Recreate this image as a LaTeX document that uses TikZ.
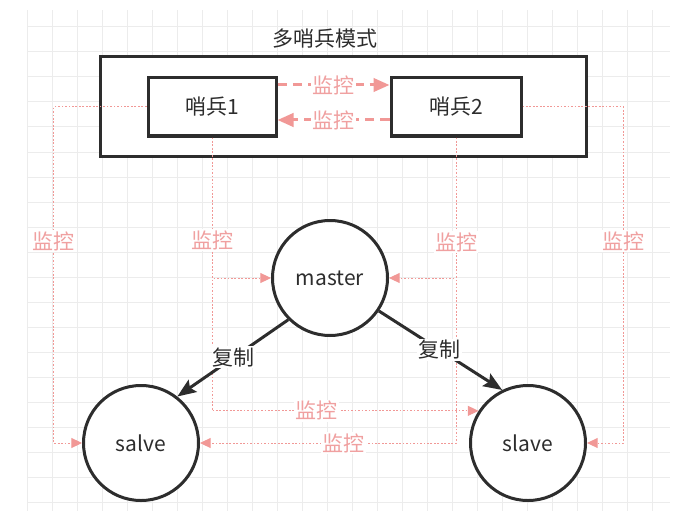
\documentclass[tikz,border=0pt]{standalone}
\usepackage{fontspec}
\setmainfont{Noto Sans CJK SC}
\usetikzlibrary{arrows.meta}
\definecolor{ink}{RGB}{45,45,45}
\definecolor{rose}{RGB}{241,152,150}
\definecolor{roselbl}{RGB}{240,160,160}
\definecolor{gridc}{RGB}{236,236,236}

\begin{document}
\begin{tikzpicture}[x=0.75pt,y=-0.75pt,
  every node/.style={font=\fontsize{15.75pt}{18pt}\selectfont, text=ink},
  gridline/.style={draw=gridc, line width=0.75pt},
  frame/.style={draw=ink, line width=2.25pt, fill=white, inner sep=0pt},
  sentinel/.style={frame, minimum width=96pt, minimum height=43.5pt},
  redis/.style={circle, draw=ink, line width=2.25pt, fill=white, minimum size=86.25pt, inner sep=0pt},
  mon/.style={draw=rose, line width=0.75pt, dash pattern=on 1.3pt off 1.3pt,
    -{Triangle[length=8pt,width=7.5pt,fill=rose]}},
  peer/.style={draw=rose, line width=2.25pt, dash pattern=on 7pt off 4.5pt,
    -{Triangle[length=12pt,width=10pt,fill=rose,sep=0pt]}},
  copyarrow/.style={draw=ink, line width=2.25pt,
    -{Stealth[length=14pt,width=11pt,inset=2.5pt]}},
  monlbl/.style={fill=white, text=roselbl, inner sep=1pt},
  copylbl/.style={fill=white, text=ink, inner sep=1pt}
]
\useasboundingbox (0,0) rectangle (684,524);

% background grid
\foreach \gx in {27,52,...,652} \draw[gridline] (\gx,10) -- (\gx,511);
\foreach \gy in {27,52,...,502} \draw[gridline] (27,\gy) -- (670,\gy);

% sentinel group
\node (title) at (325,39) {多哨兵模式};
\node[frame, minimum width=364.5pt, minimum height=74.25pt] (group) at (343,106.5) {};
\node[sentinel] (s1) at (212,107) {哨兵1};
\node[sentinel, minimum width=97.5pt] (s2) at (456,107) {哨兵2};

% redis instances
\node[redis] (master) at (330,278) {master};
\node[redis] (salve) at (141,443) {salve};
\node[redis] (slave) at (528,443) {slave};

% sentinels watching each other
\draw[peer] ([yshift=16.5pt]s1.east) -- node[monlbl]{监控} ([yshift=16.5pt]s2.west);
\draw[peer] ([yshift=-9.75pt]s2.west) -- node[monlbl]{监控} ([yshift=-9.75pt]s1.east);

% sentinels watching the data nodes
\draw[mon] (s1.west) -- ++(-93,0) |- node[pos=0.2, monlbl]{监控} (salve.west);
\draw[mon] (s1.south) |- (slave.147) node[pos=0.696, monlbl]{监控};
\draw[mon] (s1.south) |- node[pos=0.366, monlbl]{监控} (master.west);
\draw[mon] (s2.south) |- node[pos=0.72, monlbl]{监控} (salve.east);
\draw[mon] (s2.south) |- node[pos=0.373, monlbl]{监控} (master.east);
\draw[mon] (s2.east) -- ++(101,0) |- node[pos=0.2, monlbl]{监控} (slave.east);

% replication
\draw[copyarrow] (master.225) -- node[pos=0.49, copylbl]{复制} (salve.52);
\draw[copyarrow] (master.326) -- node[pos=0.49, copylbl]{复制} (slave.116);
\end{tikzpicture}
\end{document}
